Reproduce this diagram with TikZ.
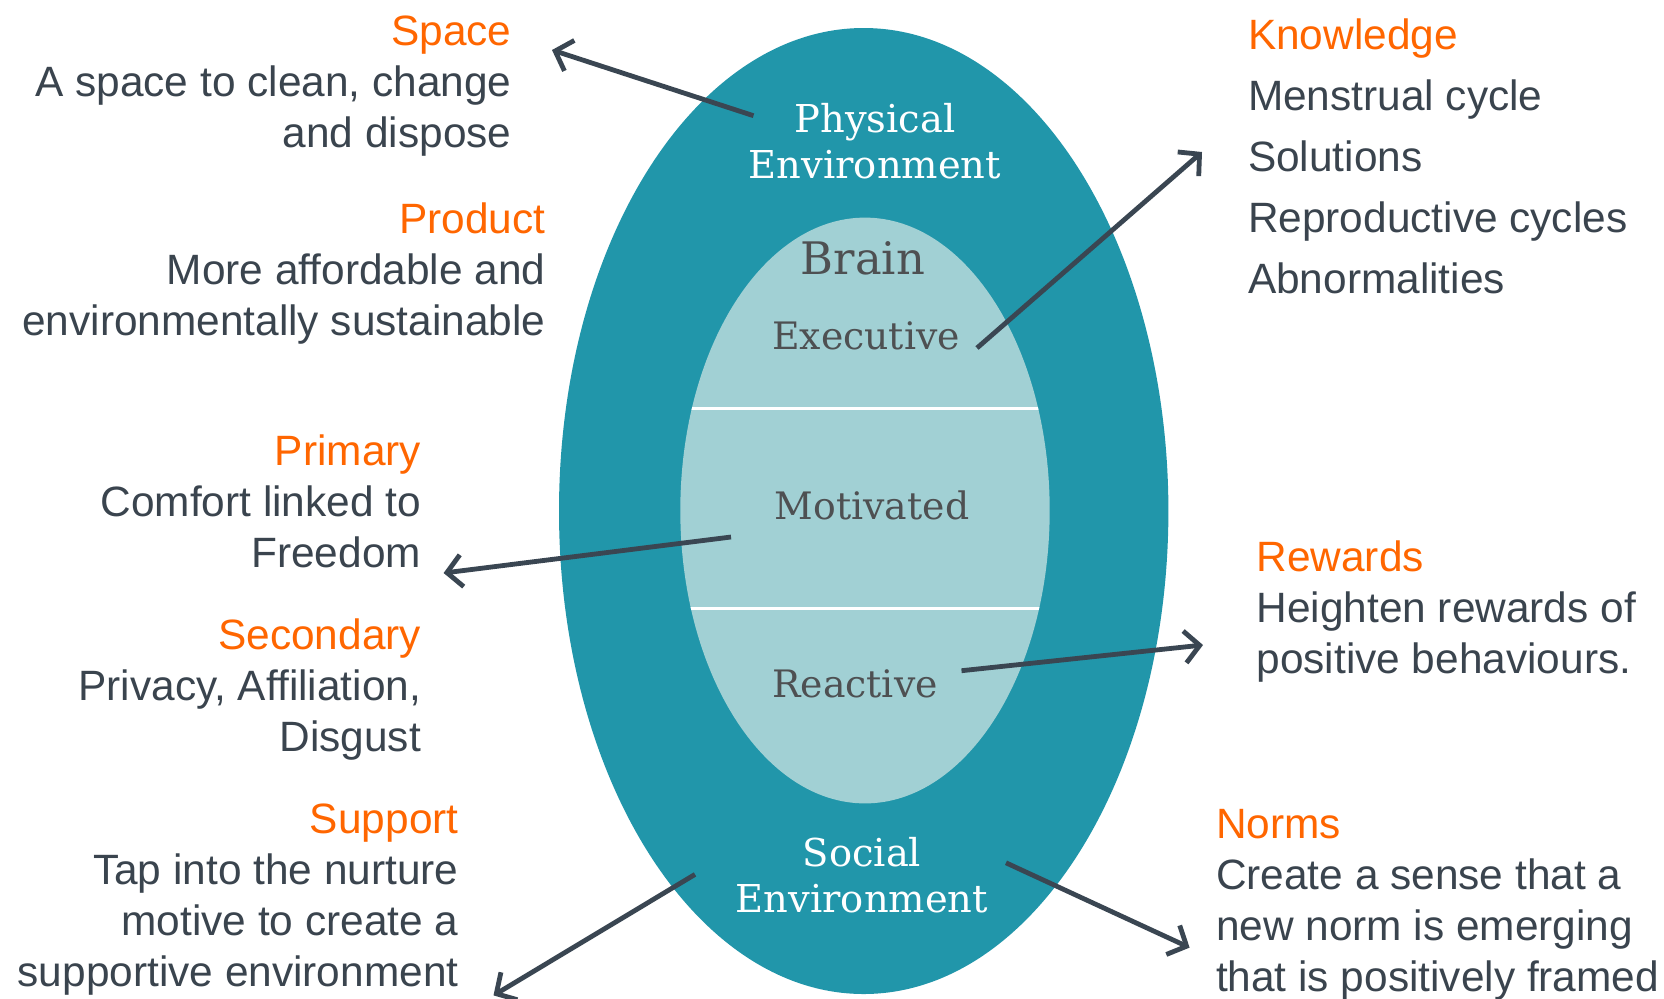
\documentclass[tikz,border=0pt]{standalone}
\usepackage{fontspec}
\setmainfont{Liberation Sans}
\newfontfamily\slabfont{DejaVu Serif}
\usetikzlibrary{arrows.meta}

\definecolor{outerteal}{RGB}{33,150,170}
\definecolor{innerteal}{RGB}{161,208,212}
\definecolor{labelorange}{RGB}{255,102,0}
\definecolor{bodygray}{RGB}{58,68,78}
\definecolor{braingray}{RGB}{78,80,82}
\definecolor{arrowslate}{RGB}{58,70,82}

\tikzset{
  body/.style={inner sep=0pt, outer sep=0pt, text=bodygray,
    font=\fontsize{21.2}{25.5}\selectfont},
  bodywide/.style={body, font=\fontsize{21.2}{30.5}\selectfont},
  leftblock/.style={body, anchor=north east, align=right},
  rightblock/.style={body, anchor=north west, align=left},
  ringtext/.style={inner sep=0pt, text=white, align=center, anchor=north,
    font=\slabfont\fontsize{19.2}{23}\selectfont},
  braintext/.style={inner sep=0pt, text=braingray, anchor=base,
    font=\slabfont\fontsize{18.9}{22}\selectfont},
  conn/.style={draw=arrowslate, line width=2.4pt,
    -{Straight Barb[length=7.5pt,width=16pt]}},
  divider/.style={draw=white, line width=1.5pt}
}
\newcommand{\hd}[1]{\textcolor{labelorange}{#1}}

\begin{document}
\begin{tikzpicture}[x=0.5pt,y=-0.5pt]
\useasboundingbox (0,0) rectangle (1664,998);
\fill[white] (0,0) rectangle (1664,998);

% outer ring (environment) and inner core (brain)
\fill[outerteal] (863.7,511) ellipse [x radius=152.35pt, y radius=241.5pt];
\fill[innerteal] (865,510.5) ellipse [x radius=92.35pt, y radius=146.45pt];
\begin{scope}
  \clip (865,510.5) ellipse [x radius=92.35pt, y radius=146.45pt];
  \draw[divider] (600,408.6) -- (1130,408.6);
  \draw[divider] (600,608) -- (1130,608);
\end{scope}

% labels inside the ellipses
\node[ringtext] (phys) at (875,99.8) {\strut Physical\\Environment};
\node[braintext, font=\slabfont\fontsize{22.4}{26}\selectfont] (brain) at (863,274) {Brain};
\node[braintext] (exec) at (866,349) {Executive};
\node[braintext] (motiv) at (872,519) {Motivated};
\node[braintext] (react) at (855,697) {Reactive};
\node[ringtext] (social) at (862,833.8) {\strut Social\\Environment};

% text blocks on the left
\node[leftblock] (space) at (511.5,9.3)
  {\strut\hd{Space}\\A space to clean, change\\and dispose};
\node[leftblock] (product) at (545.5,197.3)
  {\strut\hd{Product}\\More affordable and\\environmentally sustainable};
\node[leftblock] (primary) at (421,429.3)
  {\strut\hd{Primary}\\Comfort linked to\\Freedom};
\node[leftblock] (secondary) at (421,613.3)
  {\strut\hd{Secondary}\\Privacy, Affiliation,\\Disgust};
\node[leftblock] (support) at (458.5,797.3)
  {\strut\hd{Support}\\Tap into the nurture\\motive to create a\\supportive environment};

% text blocks on the right
\node[rightblock, bodywide] (knowledge) at (1248,6.3)
  {\strut\hd{Knowledge}\\Menstrual cycle\\Solutions\\Reproductive cycles\\Abnormalities};
\node[rightblock] (rewards) at (1256.5,535.3)
  {\strut\hd{Rewards}\\Heighten rewards of\\positive behaviours.};
\node[rightblock] (norms) at (1216,803)
  {\strut\hd{Norms}\\Create a sense that a\\new norm is emerging\\that is positively framed};

% connector end points
\coordinate (physFrom) at (753.5,115.7);
\coordinate (spaceTo) at (552,50);
\coordinate (execFrom) at (977,348);
\coordinate (knowTo) at (1202,152);
\coordinate (motivFrom) at (731,537);
\coordinate (primTo) at (443.6,573);
\coordinate (reactFrom) at (961.5,670.7);
\coordinate (rewTo) at (1203,645);
\coordinate (socLFrom) at (695,874.4);
\coordinate (suppTo) at (493.5,995.4);
\coordinate (socRFrom) at (1006,862.8);
\coordinate (normTo) at (1189.6,947.6);

\draw[conn] (physFrom) -- (spaceTo);
\draw[conn] (execFrom) -- (knowTo);
\draw[conn] (motivFrom) -- (primTo);
\draw[conn] (reactFrom) -- (rewTo);
\draw[conn] (socLFrom) -- (suppTo);
\draw[conn] (socRFrom) -- (normTo);
\end{tikzpicture}
\end{document}
